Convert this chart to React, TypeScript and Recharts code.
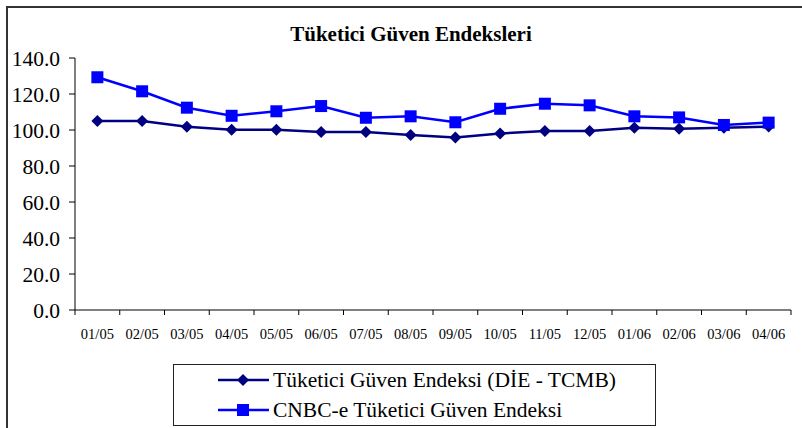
import { LineChart, Line, XAxis, YAxis, Legend } from 'recharts';

// Consumer confidence indices, monthly 01/05 - 04/06
const months = [
  '01/05', '02/05', '03/05', '04/05', '05/05', '06/05', '07/05', '08/05',
  '09/05', '10/05', '11/05', '12/05', '01/06', '02/06', '03/06', '04/06',
];
const dieTcmb = [
  105.0, 105.0, 101.8, 100.2, 100.2, 98.9, 98.9, 97.2,
  95.9, 98.1, 99.4, 99.4, 101.3, 100.7, 101.2, 101.9,
];
const cnbce = [
  129.3, 121.5, 112.4, 107.9, 110.4, 113.3, 106.8, 107.6,
  104.3, 111.8, 114.6, 113.7, 107.6, 107.0, 102.8, 104.1,
];
const yTicks = [0, 20, 40, 60, 80, 100, 120, 140];

const SERIES_1 = 'Tüketici Güven Endeksi (DİE - TCMB)';
const SERIES_2 = 'CNBC-e Tüketici Güven Endeksi';

const data = months.map((m, i) => ({ month: m, die: dieTcmb[i], cnbc: cnbce[i] }));

const W = 802;
const H = 428;
const PLOT_LEFT = 75;
const PLOT_RIGHT = 791;
const PLOT_TOP = 58;
const PLOT_BOTTOM = 310;
const BAND = (PLOT_RIGHT - PLOT_LEFT) / months.length;
const SERIF = '"Liberation Serif", "Times New Roman", serif';

const Diamond = (props: any) => {
  const { cx, cy, fill, r = 6 } = props;
  if (cx == null || cy == null) return null;
  return (
    <path
      d={`M${cx},${cy - r} L${cx + r},${cy} L${cx},${cy + r} L${cx - r},${cy} Z`}
      fill={fill}
    />
  );
};

const Square = (props: any) => {
  const { cx, cy, fill, r = 6 } = props;
  if (cx == null || cy == null) return null;
  return <rect x={cx - r} y={cy - r} width={r * 2} height={r * 2} fill={fill} />;
};

// tick marks sit between categories, labels at the category centres
const MonthTick = (props: any) => {
  const { x, y, payload, index } = props;
  const left = x - BAND / 2;
  return (
    <g>
      <line x1={left} y1={PLOT_BOTTOM} x2={left} y2={PLOT_BOTTOM + 5} stroke="#000" />
      {index === months.length - 1 && (
        <line x1={x + BAND / 2} y1={PLOT_BOTTOM} x2={x + BAND / 2} y2={PLOT_BOTTOM + 5} stroke="#000" />
      )}
      <text x={x} y={y + 21} textAnchor="middle" fontSize={14.5} fontFamily={SERIF} fill="#000">
        {payload.value}
      </text>
    </g>
  );
};

const renderLegend = () => (
  <div
    style={{
      width: 483,
      height: 62,
      boxSizing: 'border-box',
      border: '1px solid #222',
      background: '#fff',
      position: 'relative',
      fontFamily: SERIF,
      fontSize: 21.5,
      color: '#000',
    }}
  >
    {[
      { label: SERIES_1, color: '#000080', shape: 'diamond', top: 0 },
      { label: SERIES_2, color: '#0000FF', shape: 'square', top: 30 },
    ].map((it) => (
      <div
        key={it.label}
        style={{ position: 'absolute', left: 43, top: it.top, height: 30, display: 'flex', alignItems: 'center' }}
      >
        <svg width={54} height={30}>
          <line x1={1} y1={15} x2={52} y2={15} stroke={it.color} strokeWidth={2.5} />
          {it.shape === 'diamond' ? (
            <Diamond cx={26} cy={15} r={6} fill={it.color} />
          ) : (
            <Square cx={26} cy={15} r={6} fill={it.color} />
          )}
        </svg>
        <span style={{ marginLeft: 2, whiteSpace: 'nowrap' }}>{it.label}</span>
      </div>
    ))}
  </div>
);

const frameLine = (s: React.CSSProperties): React.CSSProperties => ({
  position: 'absolute',
  background: '#333',
  zIndex: 5,
  pointerEvents: 'none',
  ...s,
});

export default function App() {
  return (
    <div style={{ position: 'fixed', left: 0, top: 0, width: W, height: H, overflow: 'hidden', background: '#fff' }}>
      <div
        style={{
          position: 'absolute',
          left: 0,
          top: 22,
          width: 822,
          textAlign: 'center',
          fontFamily: SERIF,
          fontWeight: 'bold',
          fontSize: 21,
          color: '#000',
        }}
      >
        Tüketici Güven Endeksleri
      </div>
      <div style={{ position: 'absolute', left: 0, top: 0 }}>
        <LineChart
          width={W}
          height={H}
          data={data}
          margin={{ top: PLOT_TOP, right: W - PLOT_RIGHT, bottom: H - PLOT_BOTTOM - 30, left: PLOT_LEFT - 70 }}
        >
          <XAxis
            dataKey="month"
            scale="band"
            height={30}
            stroke="#000"
            tickLine={false}
            interval={0}
            tick={<MonthTick />}
          />
          <YAxis
            width={70}
            domain={[0, 140]}
            ticks={yTicks}
            tickFormatter={(v: number) => v.toFixed(1)}
            stroke="#000"
            tickSize={6}
            tickMargin={9}
            tick={{ fontSize: 21.5, fontFamily: SERIF, fill: '#000' }}
            interval={0}
          />
          <Line
            dataKey="die"
            name={SERIES_1}
            stroke="#000080"
            strokeWidth={2.5}
            dot={<Diamond r={6} fill="#000080" />}
            isAnimationActive={false}
          />
          <Line
            dataKey="cnbc"
            name={SERIES_2}
            stroke="#0000FF"
            strokeWidth={2.5}
            dot={<Square r={6} fill="#0000FF" />}
            isAnimationActive={false}
          />
          <Legend
            layout="horizontal"
            verticalAlign="middle"
            align="center"
            content={renderLegend}
            wrapperStyle={{ left: 173, top: 364, width: 483, height: 62 }}
          />
        </LineChart>
      </div>
      <div style={frameLine({ left: 6, top: 6, width: W - 6, height: 2 })} />
      <div style={frameLine({ left: 6, top: 6, width: 2, height: H - 6 })} />
    </div>
  );
}
